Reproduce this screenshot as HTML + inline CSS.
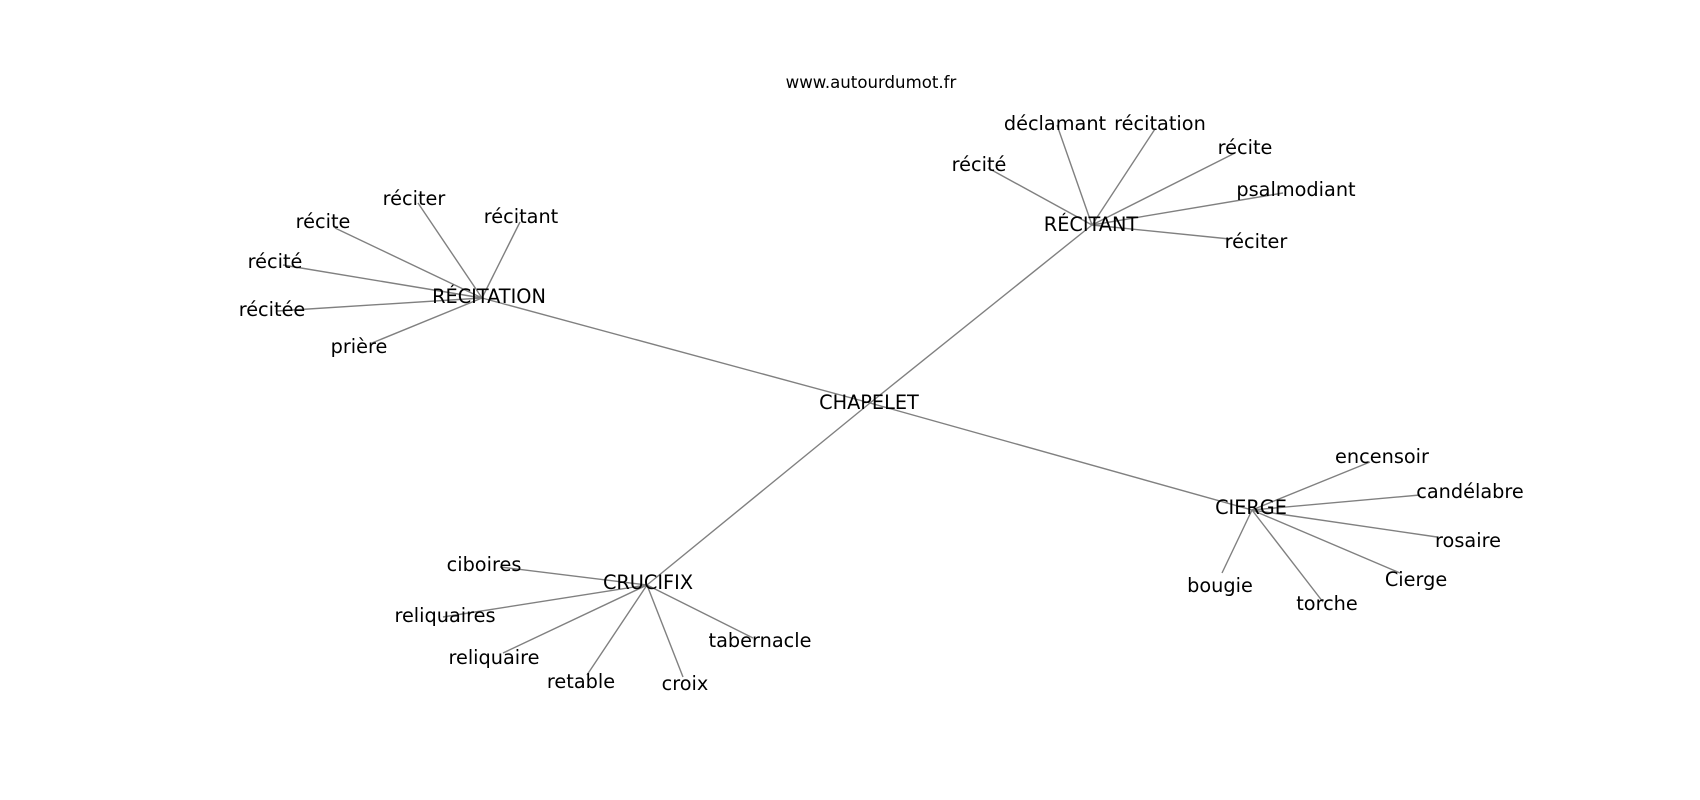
<!DOCTYPE html>
<html>
<head>
<meta charset="utf-8">
<style>
  html, body { margin:0; padding:0; background:#fff; }
  svg { display:block; }
  text { font-family: "DejaVu Sans", "Liberation Sans", sans-serif; fill:#000; }
  .l { font-size:19.3px; text-anchor:middle; }
</style>
</head>
<body>
<svg width="1700" height="800" viewBox="0 0 1700 800" xmlns="http://www.w3.org/2000/svg">
  <rect width="1700" height="800" fill="#fff"/>
  <g stroke="#808080" stroke-width="1.4" fill="none">
    <!-- hub edges -->
    <line x1="870" y1="403" x2="482" y2="298"/>
    <line x1="870" y1="403" x2="1092" y2="225"/>
    <line x1="870" y1="403" x2="647" y2="585"/>
    <line x1="870" y1="403" x2="1252" y2="510"/>
    <!-- RÉCITATION -->
    <line x1="482" y1="298" x2="418" y2="203"/>
    <line x1="482" y1="298" x2="520" y2="222"/>
    <line x1="482" y1="298" x2="335" y2="228"/>
    <line x1="482" y1="298" x2="283" y2="265"/>
    <line x1="482" y1="298" x2="277" y2="311"/>
    <line x1="482" y1="298" x2="372" y2="343"/>
    <!-- RÉCITANT -->
    <line x1="1092" y1="225" x2="1057" y2="125"/>
    <line x1="1092" y1="225" x2="1155" y2="129"/>
    <line x1="1092" y1="225" x2="1235" y2="153"/>
    <line x1="1092" y1="225" x2="988" y2="168"/>
    <line x1="1092" y1="225" x2="1283" y2="193"/>
    <line x1="1092" y1="225" x2="1230" y2="239"/>
    <!-- CRUCIFIX -->
    <line x1="647" y1="585" x2="500" y2="567"/>
    <line x1="647" y1="585" x2="443" y2="617"/>
    <line x1="647" y1="585" x2="503" y2="653"/>
    <line x1="647" y1="585" x2="587" y2="675"/>
    <line x1="647" y1="585" x2="683" y2="677"/>
    <line x1="647" y1="585" x2="753" y2="638"/>
    <!-- CIERGE -->
    <line x1="1252" y1="510" x2="1370" y2="462"/>
    <line x1="1252" y1="510" x2="1420" y2="495"/>
    <line x1="1252" y1="510" x2="1437" y2="537"/>
    <line x1="1252" y1="510" x2="1400" y2="573"/>
    <line x1="1252" y1="510" x2="1222" y2="573"/>
    <line x1="1252" y1="510" x2="1323" y2="602"/>
  </g>

  <text x="871" y="88" font-size="16.6" text-anchor="middle">www.autourdumot.fr</text>

  <!-- hubs -->
  <text class="l" x="869" y="409">CHAPELET</text>
  <text class="l" x="489" y="303">RÉCITATION</text>
  <text class="l" x="1091" y="231">RÉCITANT</text>
  <text class="l" x="648" y="589">CRUCIFIX</text>
  <text class="l" x="1251" y="514">CIERGE</text>

  <!-- RÉCITATION leaves -->
  <text class="l" x="414" y="205">réciter</text>
  <text class="l" x="521" y="223">récitant</text>
  <text class="l" x="323" y="228">récite</text>
  <text class="l" x="275" y="268">récité</text>
  <text class="l" x="272" y="316">récitée</text>
  <text class="l" x="359" y="353">prière</text>

  <!-- RÉCITANT leaves -->
  <text class="l" x="1055" y="130">déclamant</text>
  <text class="l" x="1160" y="130">récitation</text>
  <text class="l" x="1245" y="154">récite</text>
  <text class="l" x="979" y="171">récité</text>
  <text class="l" x="1296" y="196">psalmodiant</text>
  <text class="l" x="1256" y="248">réciter</text>

  <!-- CRUCIFIX leaves -->
  <text class="l" x="484" y="571">ciboires</text>
  <text class="l" x="445" y="622">reliquaires</text>
  <text class="l" x="494" y="664">reliquaire</text>
  <text class="l" x="581" y="688">retable</text>
  <text class="l" x="685" y="690">croix</text>
  <text class="l" x="760" y="647">tabernacle</text>

  <!-- CIERGE leaves -->
  <text class="l" x="1382" y="463">encensoir</text>
  <text class="l" x="1470" y="498">candélabre</text>
  <text class="l" x="1468" y="547">rosaire</text>
  <text class="l" x="1416" y="586">Cierge</text>
  <text class="l" x="1220" y="592">bougie</text>
  <text class="l" x="1327" y="610">torche</text>
</svg>
</body>
</html>
